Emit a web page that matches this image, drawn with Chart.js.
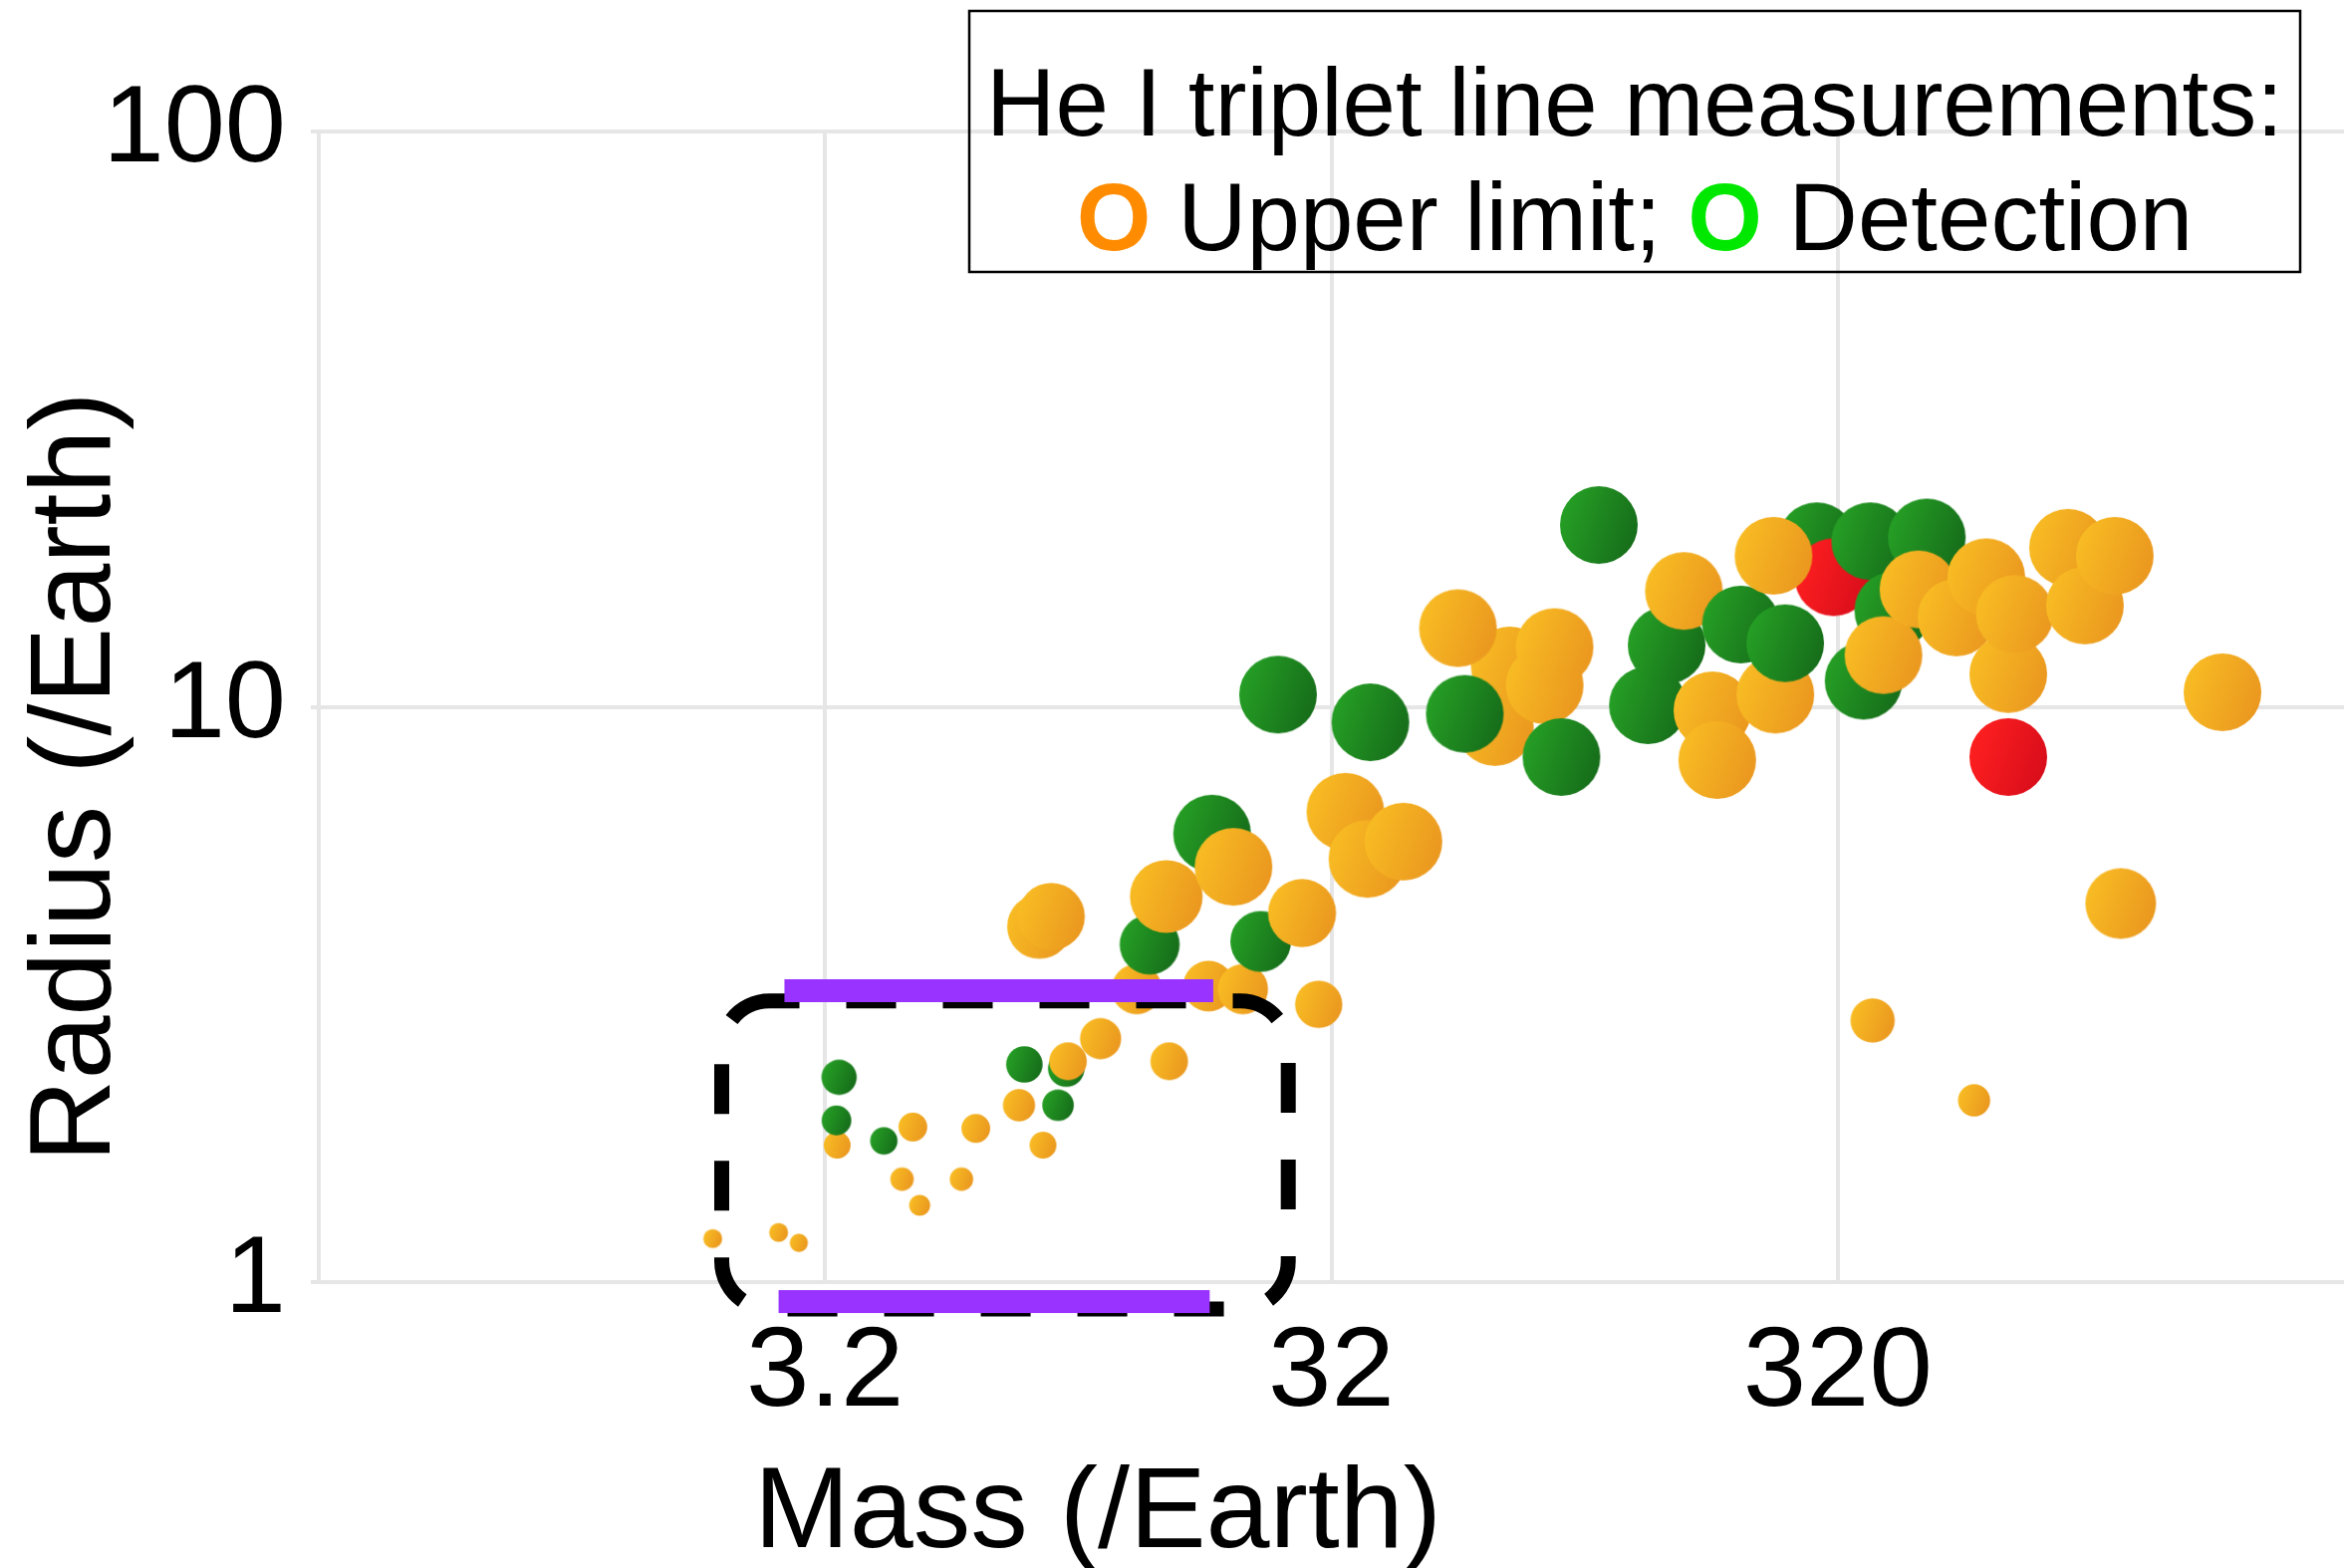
<!DOCTYPE html>
<html>
<head>
<meta charset="utf-8">
<script src="https://cdn.jsdelivr.net/npm/chart.js@4.4.1/dist/chart.umd.min.js"></script>
<style>
  html, body { margin: 0; padding: 0; background: #ffffff; overflow: hidden; }
  #wrap { position: relative; width: 2353px; height: 1574px; }
</style>
</head>
<body>
<div id="wrap"><canvas id="chart" width="2353" height="1574"></canvas></div>
<script>
// ---------------- DATA ----------------
// Planet mass (Earth masses), in drawing order
const planetMass = [
  1.92, 2.59, 2.84, 3.38, 3.41, 3.37, 4.18, 4.77, 4.54, 4.92,
  6.35, 5.95, 7.73, 9.23, 8.62, 7.92, 9.58, 9.66, 11.2, 13.2,
  18.3, 21.4, 30.2, 15.3, 14.0, 8.48, 8.95, 15.1, 18.6, 20.5,
  23.2, 28.0, 34.1, 37.7, 44.4, 67.3, 72.0, 84.4, 88.3, 56.9,
  25.1, 38.2, 58.7, 91.1, 108, 135, 147, 159, 181, 185,
  206, 241, 252, 291, 314, 371, 480, 239, 360, 412,
  394, 462, 549, 629, 695, 716, 912, 985, 1128, 695,
  1841, 1159, 375, 595
];
// Planet radius (Earth radii), same order
const planetRadius = [
  1.19, 1.22, 1.17, 1.73, 2.27, 1.91, 1.76, 1.86, 1.51, 1.36,
  1.85, 1.51, 2.03, 2.03, 1.73, 2.39, 2.35, 2.42, 2.65, 3.23,
  3.27, 3.23, 3.04, 2.42, 3.86, 4.15, 4.32, 4.68, 6.02, 5.27,
  3.91, 4.38, 6.57, 5.44, 5.83, 9.22, 11.8, 10.9, 12.7, 13.7,
  10.5, 9.40, 9.72, 8.18, 20.7, 10.06, 12.8, 15.9, 9.86, 8.08,
  13.9, 10.5, 12.9, 19.4, 16.8, 19.4, 19.7, 18.3, 11.1, 14.7,
  12.3, 16.0, 14.3, 16.8, 11.4, 14.5, 18.9, 15.0, 18.3, 8.18,
  10.6, 4.55, 2.85, 2.07
];
// He I measurement: U = upper limit, D = detection, R = other (red)
const planetStatus = [
  'U','U','U','U','D','D','D','U','U','U',
  'U','U','U','D','U','D','D','U','U','U',
  'U','U','U','U','D','U','U','U','D','U',
  'D','U','U','U','U','U','U','U','U','U',
  'D','D','D','D','D','D','D','U','U','U',
  'D','U','D','D','R','D','D','U','D','D',
  'U','U','U','U','U','U','U','U','U','R',
  'U','U','U','U'
];

const xTickValues = [0.32, 3.2, 32, 320];
const xTickLabels = ['', '3.2', '32', '320'];
const yTickValues = [1, 10, 100];
const yTickLabels = ['1', '10', '100'];

const xAxisTitle = 'Mass (/Earth)';
const yAxisTitle = 'Radius (/Earth)';
const legendTitle = 'He I triplet line measurements:';
const legendSymbol = 'O';
const legendUpper = ' Upper limit; ';
const legendDetect = ' Detection';

// highlighted region (data units)
const boxMass = [2.0, 26.3];
const boxRadius = [0.898, 3.08];
const topBarMass = [2.66, 18.7];
const bottomBarMass = [2.59, 18.4];
const barRadius = [3.21, 0.925];

// ---------------- STYLE ----------------
const FONT = "'Liberation Sans', Arial, Helvetica, sans-serif";
const dotColors = {
  U: ['#f9bd24', '#ea971f'],
  D: ['#26a025', '#166c1a'],
  R: ['#ff2020', '#d80d1b']
};
const dotCache = {};
function radiusPx(r) { return Math.min(7.8 * r, 39); }
function dotImage(status, r) {
  const key = status + '_' + Math.round(r * 2);
  if (dotCache[key]) return dotCache[key];
  const pal = dotColors[status];
  const size = Math.ceil(2 * r) + 2;
  const cv = document.createElement('canvas');
  cv.width = size; cv.height = size;
  const g = cv.getContext('2d');
  const c = size / 2;
  const grad = g.createLinearGradient(c - r, c - r * 0.35, c + r, c + r * 0.35);
  grad.addColorStop(0, pal[0]);
  grad.addColorStop(1, pal[1]);
  g.beginPath();
  g.arc(c, c, r, 0, Math.PI * 2);
  g.fillStyle = grad;
  g.fill();
  dotCache[key] = cv;
  return cv;
}

const points = planetMass.map((m, i) => ({ x: m, y: planetRadius[i] }));

const overlayPlugin = {
  id: 'overlay',
  afterDatasetsDraw(chart) {
    const ctx = chart.ctx;
    const xs = chart.scales.x, ys = chart.scales.y;
    // dashed rounded box
    const bx0 = xs.getPixelForValue(boxMass[0]);
    const bx1 = xs.getPixelForValue(boxMass[1]);
    const by0 = ys.getPixelForValue(boxRadius[1]);
    const by1 = ys.getPixelForValue(boxRadius[0]);
    ctx.save();
    ctx.strokeStyle = '#000000';
    ctx.lineWidth = 15;
    ctx.setLineDash([50, 47]);
    ctx.lineDashOffset = 20;
    ctx.beginPath();
    ctx.roundRect(bx0, by0, bx1 - bx0, by1 - by0, 48);
    ctx.stroke();
    ctx.restore();
    // purple bars
    ctx.save();
    ctx.fillStyle = '#9933ff';
    const t0 = xs.getPixelForValue(topBarMass[0]);
    const t1 = xs.getPixelForValue(topBarMass[1]);
    const ty = ys.getPixelForValue(barRadius[0]);
    ctx.fillRect(t0, ty - 11.5, t1 - t0, 23);
    const b0 = xs.getPixelForValue(bottomBarMass[0]);
    const b1 = xs.getPixelForValue(bottomBarMass[1]);
    const byy = ys.getPixelForValue(barRadius[1]);
    ctx.fillRect(b0, byy - 11.5, b1 - b0, 23);
    ctx.restore();
  },
  afterDraw(chart) {
    const ctx = chart.ctx;
    // axis titles
    ctx.save();
    ctx.fillStyle = '#000000';
    ctx.font = '115px ' + FONT;
    ctx.textAlign = 'center';
    ctx.textBaseline = 'alphabetic';
    ctx.fillText(xAxisTitle, 1102, 1553);
    ctx.translate(110, 780);
    ctx.rotate(-Math.PI / 2);
    ctx.fillText(yAxisTitle, 0, 0);
    ctx.restore();
    // legend box
    ctx.save();
    ctx.strokeStyle = '#000000';
    ctx.lineWidth = 2.5;
    ctx.strokeRect(973, 11, 1336, 262);
    const cx = 1641;
    ctx.fillStyle = '#000000';
    ctx.font = '96px ' + FONT;
    ctx.textAlign = 'center';
    ctx.textBaseline = 'alphabetic';
    ctx.fillText(legendTitle, cx, 136);
    const boldFont = 'bold 96px ' + FONT;
    const normFont = '96px ' + FONT;
    const parts = [
      [legendSymbol, boldFont, '#ff8c00'],
      [legendUpper, normFont, '#000000'],
      [legendSymbol, boldFont, '#00e800'],
      [legendDetect, normFont, '#000000']
    ];
    let total = 0;
    parts.forEach(p => { ctx.font = p[1]; total += ctx.measureText(p[0]).width; });
    let x = cx - total / 2;
    ctx.textAlign = 'left';
    parts.forEach(p => {
      ctx.font = p[1];
      ctx.fillStyle = p[2];
      ctx.fillText(p[0], x, 251);
      x += ctx.measureText(p[0]).width;
    });
    ctx.restore();
  }
};

new Chart(document.getElementById('chart'), {
  type: 'scatter',
  data: {
    datasets: [{
      label: 'planets',
      data: points,
      pointStyle: (c) => dotImage(planetStatus[c.dataIndex], radiusPx(planetRadius[c.dataIndex])),
      pointRadius: (c) => radiusPx(planetRadius[c.dataIndex]),
      pointHoverRadius: (c) => radiusPx(planetRadius[c.dataIndex]),
      backgroundColor: (c) => dotColors[planetStatus[c.dataIndex]][0],
      borderWidth: 0
    }]
  },
  options: {
    responsive: false,
    animation: false,
    devicePixelRatio: 1,
    events: [],
    layout: { autoPadding: false, padding: { top: 132, left: 0, right: 0, bottom: 0 } },
    plugins: { legend: { display: false }, tooltip: { enabled: false }, title: { display: false } },
    scales: {
      x: {
        type: 'logarithmic',
        position: 'bottom',
        bounds: 'data',
        min: 0.32,
        max: 3200,
        afterBuildTicks: (s) => { s.ticks = xTickValues.map(v => ({ value: v })); },
        afterFit: (s) => { s.height = 287; s.paddingLeft = 0; s.paddingRight = 0; },
        ticks: {
          autoSkip: false, maxRotation: 0, minRotation: 0, padding: 24,
          color: '#000000', font: { family: FONT, size: 114 },
          callback: (v, i) => xTickLabels[i]
        },
        grid: { color: '#e6e6e6', lineWidth: 4, drawTicks: false },
        border: { display: false }
      },
      y: {
        type: 'logarithmic',
        position: 'left',
        bounds: 'data',
        min: 1,
        max: 100,
        afterBuildTicks: (s) => { s.ticks = yTickValues.map(v => ({ value: v })); },
        afterFit: (s) => { s.width = 320; s.paddingTop = 0; s.paddingBottom = 0; },
        ticks: {
          autoSkip: false, padding: 25,
          color: '#000000', font: { family: FONT, size: 110 },
          callback: (v, i) => yTickLabels[i]
        },
        grid: { color: '#e6e6e6', lineWidth: 4, drawTicks: true, tickLength: 8 },
        border: { display: false }
      }
    }
  },
  plugins: [overlayPlugin]
});
</script>
</body>
</html>
